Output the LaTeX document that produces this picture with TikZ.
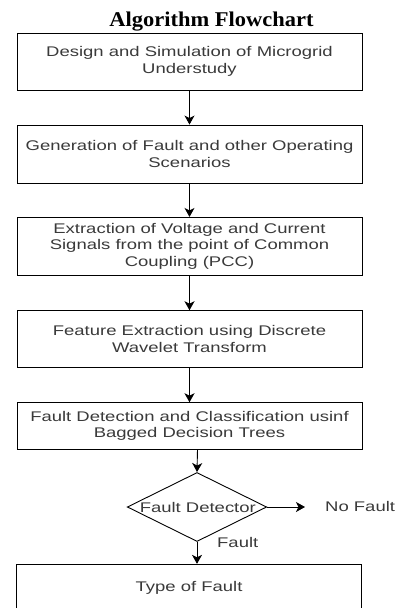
\documentclass[tikz,border=0pt]{standalone}
\usepackage{fontspec}
\setmainfont{Liberation Sans}
\newfontfamily\boxfont[FakeStretch=1.32]{Liberation Sans}
\newfontfamily\titlefont[FakeStretch=1.07]{Liberation Serif}
\usetikzlibrary{arrows.meta,shapes.geometric}
\definecolor{txtgray}{HTML}{3a3a3a}
\begin{document}
\begin{tikzpicture}[x=1pt,y=-1pt,
  procbox/.style={draw=black, line width=0.9pt, rectangle, minimum width=345pt, inner sep=0pt,
    align=center, font=\boxfont\fontsize{14}{16.7}\selectfont, text=txtgray},
  decision/.style={draw=black, line width=0.9pt, diamond, minimum width=139.4pt, minimum height=69pt, inner sep=0pt},
  lbl/.style={font=\boxfont\fontsize{14}{16.7}\selectfont, text=txtgray, inner sep=0pt},
  flow/.style={line width=0.9pt, -{Stealth[length=9pt,width=10pt,inset=2.5pt]}}]
\path[use as bounding box, clip] (0,0) rectangle (396,608);
\fill[white] (0,0) rectangle (396,608);
\node[font=\titlefont\bfseries\fontsize{21}{24}\selectfont, anchor=base, inner sep=0pt] (title) at (211.5,26.5) {Algorithm Flowchart};
\node[procbox, minimum height=57pt] (b1) at (189.5,61.5) {Design and Simulation of Microgrid\\Understudy};
\node[procbox, minimum height=58pt] (b2) at (189.5,154) {Generation of Fault and other Operating\\Scenarios};
\node[procbox, minimum height=57.7pt] (b3) at (189.5,246.2) {Extraction of Voltage and Current\\Signals from the point of Common\\Coupling (PCC)};
\node[procbox, minimum height=57pt] (b4) at (189.5,339.2) {Feature Extraction using Discrete\\Wavelet Transform};
\node[procbox, minimum height=46.6pt] (b5) at (189.5,426) {Fault Detection and Classification usinf\\Bagged Decision Trees};
\node[decision] (dec) at (197,507) {};
\node[lbl] (dectxt) at (197.8,507) {Fault Detector};
\node[lbl, anchor=base west] (nofault) at (325,511.7) {No Fault};
\node[lbl, anchor=base west] (faultlbl) at (217,547) {Fault};
\coordinate (nfend) at (305,507);
\coordinate (b5out) at (197.5,449.3);
\node[procbox, minimum height=48pt] (b6) at (189,588.3) {Type of Fault};
\draw[flow] (b1.south) -- (b2.north);
\draw[flow] (b2.south) -- (b3.north);
\draw[flow] (b3.south) -- (b4.north);
\draw[flow] (b4.south) -- (b5.north);
\draw[flow] (b5out) -- (dec.north);
\draw[flow] (dec.east) -- (nfend);
\draw[flow] (dec.south) -- (dec.south |- b6.north);
\end{tikzpicture}
\end{document}
